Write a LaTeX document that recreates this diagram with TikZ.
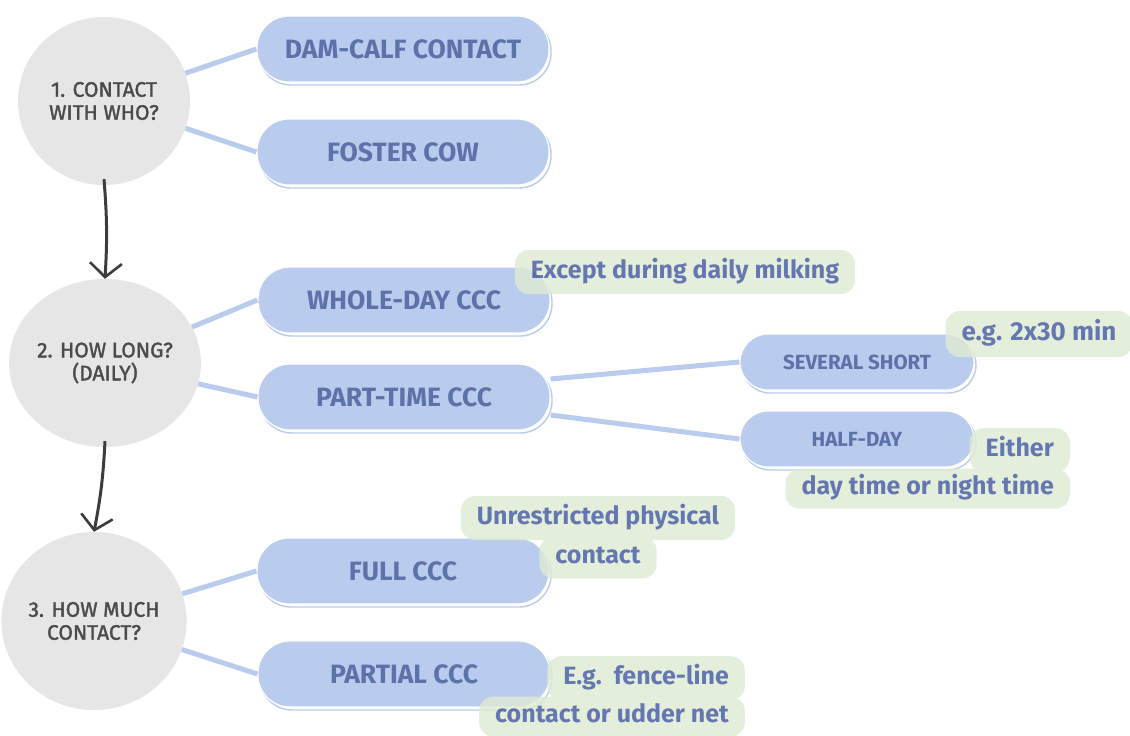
\documentclass[tikz,border=0pt]{standalone}
\usepackage{fontspec}
\setmainfont{Fira Sans}
\newfontfamily\questionfont[FakeBold=1.6]{Fira Sans}
\usetikzlibrary{shapes.geometric, positioning, arrows.meta}
\definecolor{pillblue}{RGB}{185,204,238}
\definecolor{pilltext}{RGB}{92,114,168}
\definecolor{notetext}{RGB}{62,86,158}
\definecolor{notegreen}{RGB}{222,236,210}
\definecolor{circlegray}{RGB}{230,230,230}
\definecolor{circletext}{RGB}{75,75,75}
\definecolor{arrowgray}{RGB}{60,60,60}
\begin{document}
\begin{tikzpicture}[
  x=1pt, y=-1pt,
  question/.style={ellipse, fill=circlegray, align=center, inner sep=0pt, text=circletext, font=\questionfont\fontsize{21}{23}\selectfont},
  pill/.style={fill=pillblue, draw=white, line width=1.2, rounded corners=32, minimum width=292, minimum height=66, inner sep=0pt, text=pilltext, font=\bfseries\fontsize{26.5}{30}\selectfont,
    preaction={draw=pillblue, line width=1.4, transform canvas={shift={(2pt,-3pt)}}}},
  smallpill/.style={pill, rounded corners=28, minimum width=234, minimum height=56, font=\bfseries\fontsize{20.5}{24}\selectfont},
  noteline/.style={fill=notegreen, rounded corners=14, inner xsep=16, inner ysep=0pt, minimum height=40, text height=18, text depth=6, text=notetext, font=\bfseries\fontsize{25}{29}\selectfont},
  link/.style={draw=pillblue, line width=5},
  flow/.style={draw=arrowgray, line width=3, -{Straight Barb[length=14, width=32, line width=2.6]}}
]
  \useasboundingbox[fill=white] (0,0) rectangle (1130,736);

  % questions
  \node[question, minimum width=172, minimum height=168] (who) at (104,101) {1. CONTACT\\WITH WHO?};
  \node[question, minimum width=174, minimum height=168] (howlong) at (105,363) {2. HOW LONG?\\(DAILY)};
  \node[question, minimum width=172, minimum height=178] (howmuch) at (94,621) {3. HOW MUCH\\CONTACT?};

  % options
  \node[pill] (damcalf) at (403,49) {DAM-CALF CONTACT};
  \node[pill] (foster) at (403,152) {FOSTER COW};
  \node[pill] (wholeday) at (404,300) {WHOLE-DAY CCC};
  \node[pill] (parttime) at (404,397) {PART-TIME CCC};
  \node[smallpill] (several) at (857,362) {SEVERAL SHORT};
  \node[smallpill] (halfday) at (857,439) {HALF-DAY};
  \node[pill] (full) at (403,571) {FULL CCC};
  \node[pill] (partial) at (404,674) {PARTIAL CCC};

  \draw[link] (who) -- (damcalf.west);
  \draw[link] (who) -- (foster.west);
  \draw[link] (howlong) -- (wholeday.west);
  \draw[link] (howlong) -- (parttime.west);
  \draw[link] (parttime.7) -- (several.west);
  \draw[link] (parttime.-7) -- (halfday.west);
  \draw[link] (howmuch) -- (full.west);
  \draw[link] (howmuch) -- (partial.west);

  \draw[flow] ([yshift=6]who.south) to[bend left=4] (howlong.north);
  \draw[flow] ([yshift=6]howlong.south) to[bend left=4] (howmuch.north);

  % notes
  \begin{scope}[transparency group, opacity=0.8]
    \node[noteline, minimum height=44] (milking) at (685,272) {Except during daily milking};
    \node[noteline, minimum height=46, font=\bfseries\fontsize{26}{30}\selectfont] (twoxthirty) at (1039,334) {e.g. 2x30 min};
    \node[noteline, minimum height=44, anchor=north east] (either1) at (1070,428) {Either};
    \node[noteline, anchor=north east] (either2) at ([yshift=4]either1.south east) {day time or night time};
    \node[noteline, minimum height=44] (unres1) at (598,518) {Unrestricted physical};
    \node[noteline, minimum height=42, below=-4pt of unres1] (unres2) {contact};
    \node[noteline, minimum height=44, anchor=north east] (fence1) at (745,656) {E.g.\ \ fence-line};
    \node[noteline, anchor=north east] (fence2) at ([yshift=4]fence1.south east) {contact or udder net};
  \end{scope}
\end{tikzpicture}
\end{document}
